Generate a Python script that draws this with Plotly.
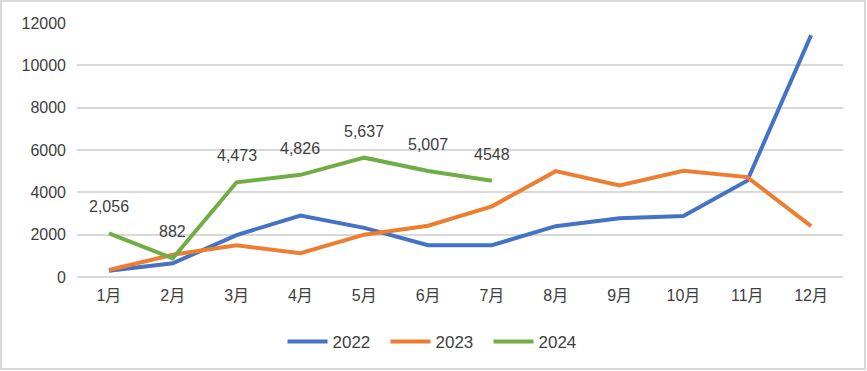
import plotly.graph_objects as go

months = ["1月", "2月", "3月", "4月", "5月", "6月", "7月", "8月", "9月", "10月", "11月", "12月"]
s2022 = [300, 650, 1980, 2900, 2320, 1500, 1500, 2400, 2780, 2880, 4550, 11420]
s2023 = [330, 1050, 1500, 1120, 2000, 2420, 3340, 5000, 4330, 5020, 4720, 2400]
s2024 = [2056, 882, 4473, 4826, 5637, 5007, 4548]
labels2024 = ["2,056", "882", "4,473", "4,826", "5,637", "5,007", "4548"]

colors = {"2022": "#4472C4", "2023": "#ED7D31", "2024": "#70AD47"}
FONT = "Liberation Sans, Noto Sans CJK SC, sans-serif"

fig = go.Figure()
for name, ys, xs in [("2022", s2022, months), ("2023", s2023, months), ("2024", s2024, months[:len(s2024)])]:
    fig.add_trace(go.Scatter(x=xs, y=ys, mode="lines", name=name,
                             line=dict(color=colors[name], width=4)))

for x, y, t in zip(months, s2024, labels2024):
    fig.add_annotation(x=x, y=y, text=t, showarrow=False, yanchor="bottom", yshift=16,
                       font=dict(size=16, color="#404040", family=FONT))

W, H = 867, 371
ml, mr, mt, mb = 77, 24, 23, 94
pw, ph = W - ml - mr, H - mt - mb
fig.add_shape(type="rect", xref="paper", yref="paper",
              x0=(1 - ml) / pw, x1=(W - 2 - ml) / pw,
              y0=-(mb - 2) / ph, y1=1 + (mt - 1) / ph,
              line=dict(color="#D9D9D9", width=2), layer="below")

fig.update_layout(
    width=W, height=H,
    margin=dict(l=ml, r=mr, t=mt, b=mb, autoexpand=False),
    plot_bgcolor="white", paper_bgcolor="white",
    font=dict(family=FONT, size=16, color="#595959"),
    showlegend=True,
    legend=dict(orientation="h", x=(437 - ml) / pw, xanchor="center",
                y=-0.185, yanchor="top", entrywidth=48,
                font=dict(size=17, color="#404040"), itemwidth=40),
    xaxis=dict(type="category", categoryorder="array", categoryarray=months,
               range=[-0.5, 11.5], showgrid=False, showline=False, zeroline=False,
               ticks="outside", ticklen=4, tickcolor="rgba(0,0,0,0)",
               tickfont=dict(size=16, color="#404040")),
    yaxis=dict(range=[0, 12000], dtick=2000, showgrid=True, gridcolor="#D9D9D9",
               gridwidth=1.5, zeroline=True, zerolinecolor="#D9D9D9", zerolinewidth=1.5,
               showline=False, ticks="", tickformat="d", ticklabelstandoff=10,
               tickfont=dict(size=16, color="#404040")),
)

fig.write_html("out.html", post_script="document.body.style.margin='0';",
               config={"displayModeBar": False})
